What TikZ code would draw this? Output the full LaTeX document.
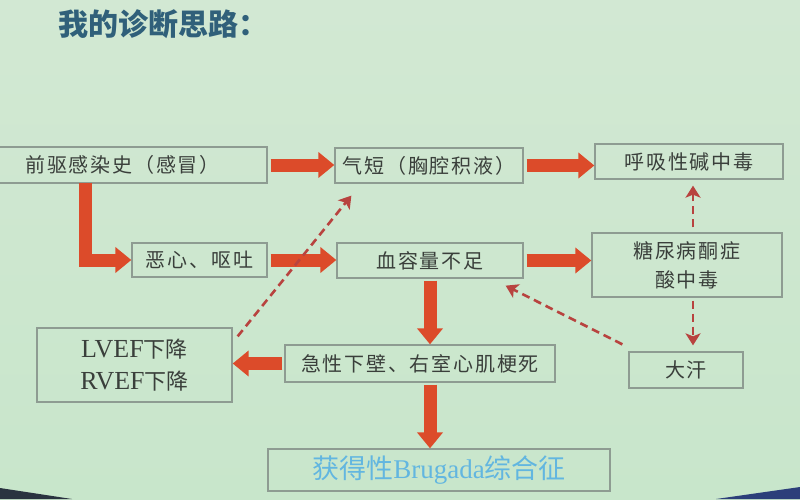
\documentclass[tikz,border=0pt]{standalone}
\usepackage{fontspec}
\setmainfont{Noto Sans CJK SC}
\newfontfamily\cjk{Noto Sans CJK SC}
\newfontfamily\cjkls{Noto Sans CJK SC}[LetterSpace=9]
\newfontfamily\lat{Liberation Serif}
\usetikzlibrary{arrows.meta}
\definecolor{bgtop}{HTML}{D2E8D3}
\definecolor{bgbot}{HTML}{C8E6CB}
\definecolor{boxline}{HTML}{8E9C92}
\definecolor{txt}{HTML}{3A3F3B}
\definecolor{titlecol}{HTML}{30607A}
\definecolor{bigred}{HTML}{DC4B2A}
\definecolor{dashred}{HTML}{B8433F}
\definecolor{bluetxt}{HTML}{62B6E0}
\definecolor{darkleft}{HTML}{2A3340}
\definecolor{darkright}{HTML}{2C3F7A}
\tikzset{
  stepbox/.style={draw=boxline, line width=1.3pt, text=txt, inner sep=0pt,
    font=\cjkls\fontsize{20}{24}\selectfont, align=center},
  bigarr/.style={draw=bigred, line width=13pt,
    -{Triangle[width=25pt,length=16pt]}, line join=miter},
  dasharr/.style={draw=dashred, line width=2.6pt, dash pattern=on 8pt off 5pt,
    -{Stealth[width=15pt,length=12pt,inset=3pt]}},
}
\begin{document}
\begin{tikzpicture}[x=1pt,y=-1pt]
\useasboundingbox (0,0) rectangle (800,499);
\shade[top color=bgtop, bottom color=bgbot] (0,0) rectangle (800,499);
\fill[darkleft] (0,488) -- (72,499) -- (0,499) -- cycle;
\fill[darkright] (716,499) -- (800,487) -- (800,499) -- cycle;

\node[anchor=west, text=titlecol, font=\cjk\bfseries\fontsize{30}{32}\selectfont] (title) at (55,24) {我的诊断思路：};

\begin{scope}
\clip (0,0) rectangle (800,499);
\node[stepbox, minimum width=289pt, minimum height=36pt] (b1) at (122.5,165) {前驱感染史（感冒）};
\end{scope}
\node[stepbox, minimum width=188pt, minimum height=35pt] (b2) at (429,165.5) {气短（胸腔积液）};
\node[stepbox, minimum width=188pt, minimum height=35pt] (b3) at (689,161.5) {呼吸性碱中毒};
\node[stepbox, minimum width=135pt, minimum height=34pt] (b4) at (199.5,260) {恶心、呕吐};
\node[stepbox, minimum width=186pt, minimum height=35pt] (b5) at (430,260.5) {血容量不足};
\node[stepbox, minimum width=190pt, minimum height=64pt, font=\cjkls\fontsize{20}{29}\selectfont] (b6) at (687,265) {糖尿病酮症\\酸中毒};
\node[stepbox, minimum width=114pt, minimum height=36pt] (b7) at (686,370) {大汗};
\node[stepbox, minimum width=270pt, minimum height=37pt] (b8) at (420,363.5) {急性下壁、右室心肌梗死};
\node[stepbox, minimum width=195pt, minimum height=74pt, font=\cjk\fontsize{22}{32}\selectfont] (b9) at (134.5,365) {{\lat\fontsize{26}{32}\selectfont LVEF}下降\\{\lat\fontsize{26}{32}\selectfont RVEF}下降};
\node[stepbox, minimum width=342pt, minimum height=42pt, text=bluetxt, font=\cjk\fontsize{27}{30}\selectfont] (b10) at (439,470) {获得性{\lat Brugada}综合征};

% solid block arrows
\coordinate (e1) at (85.5,260);
\draw[bigarr, shorten <=-1pt] (b1.south -| e1) |- (b4.west);
\draw[bigarr, shorten <=3pt] (b1.east) -- (b1.east -| b2.west);
\draw[bigarr, shorten <=3pt] (b2.east) -- (b2.east -| b3.west);
\draw[bigarr, shorten <=3pt] (b4.east) -- (b4.east -| b5.west);
\draw[bigarr, shorten <=3pt] (b5.east) -- (b5.east -| b6.west);
\draw[bigarr, shorten <=2pt] (b5.south) -- (b5.south |- b8.north);
\draw[bigarr, shorten <=2pt] (b5.south |- b8.south) -- (b5.south |- b10.north);
\draw[bigarr, shorten <=2pt] (b8.west) -- (b8.west -| b9.east);

% dashed arrows
\coordinate (dx) at (693,0);
\draw[dasharr, shorten <=5pt, shorten >=6pt] (b6.north -| dx) -- (b3.south -| dx);
\draw[dasharr, shorten <=3pt, shorten >=6pt] (b6.south -| dx) -- (b7.north -| dx);
\draw[dasharr] ([xshift=-6pt,yshift=7pt]b7.north west) -- ([xshift=-18pt,yshift=-7pt]b5.south east);
\draw[dasharr] ([xshift=5pt,yshift=-9pt]b9.north east) -- ([xshift=17pt,yshift=-12pt]b2.south west);
\end{tikzpicture}
\end{document}
